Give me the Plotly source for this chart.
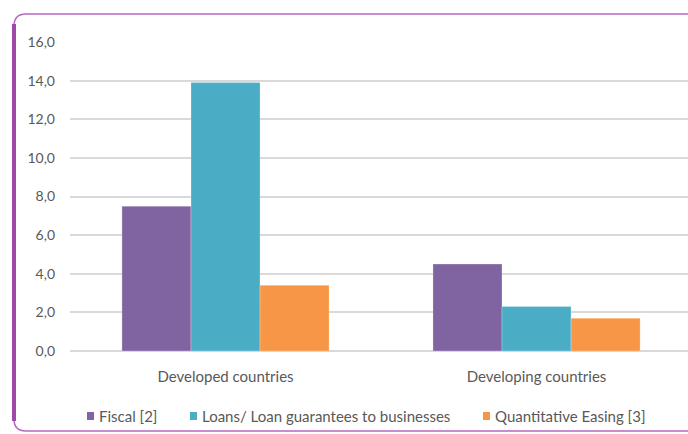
import plotly.graph_objects as go

categories = ["Developed countries", "Developing countries"]
series_names = ["Fiscal [2]", "Loans/ Loan guarantees to businesses", "Quantitative Easing [3]"]
fiscal = [7.5, 4.5]
loans = [13.9, 2.3]
qe = [3.4, 1.7]
colors = ["#8064A2", "#4BACC6", "#F79646"]
tick_vals = [0, 2, 4, 6, 8, 10, 12, 14, 16]

W, H = 688, 434
L, R, T, B = 70, 0, 42, 83
pw, ph = W - L - R, H - T - B

fig = go.Figure()
for name, vals, c in zip(series_names, [fiscal, loans, qe], colors):
    fig.add_trace(go.Bar(x=categories, y=vals, name=name, showlegend=False,
                         marker=dict(color=c, line=dict(color="rgba(255,255,255,0.5)", width=0.5))))

def px(x):
    return (x - L) / pw

def py(y):
    return (H - B - y) / ph

# frame: left thick, top/bottom thin, rounded corners
r = 12
left_x = 14
top_y = 14
bot_y = 431
right_x = 700
path = (f"M {px(right_x)},{py(top_y)} L {px(left_x + r)},{py(top_y)} "
        f"Q {px(left_x)},{py(top_y)} {px(left_x)},{py(top_y + r)} "
        f"L {px(left_x)},{py(bot_y - r)} "
        f"Q {px(left_x)},{py(bot_y)} {px(left_x + r)},{py(bot_y)} "
        f"L {px(right_x)},{py(bot_y)}")
fig.add_shape(type="path", xref="paper", yref="paper", path=path,
              line=dict(color="#B868C0", width=1.5), layer="above")
fig.add_shape(type="line", xref="paper", yref="paper",
              x0=px(left_x), x1=px(left_x), y0=py(top_y + r - 2), y1=py(bot_y - r + 2),
              line=dict(color="#A048A8", width=4), layer="above")

# manual legend
legend_sq_x = [87, 190, 483]
legend_y = 416
for name, c, sx in zip(series_names, colors, legend_sq_x):
    fig.add_shape(type="rect", xref="paper", yref="paper",
                  x0=px(sx), x1=px(sx + 7), y0=py(legend_y - 4), y1=py(legend_y + 4),
                  fillcolor=c, line=dict(width=0))
    fig.add_annotation(xref="paper", yref="paper", x=px(sx + 10), y=py(legend_y),
                       xanchor="left", yanchor="middle", text=name, showarrow=False,
                       font=dict(size=15, color="#595959"))

fig.update_layout(
    width=W, height=H,
    margin=dict(l=L, r=R, t=T, b=B),
    paper_bgcolor="white", plot_bgcolor="white",
    separators=",.",
    barmode="group", bargap=0.334, bargroupgap=0,
    font=dict(family="Lato, Open Sans, sans-serif", size=13, color="#595959"),
    showlegend=False,
    xaxis=dict(range=[-0.5, 1.487], showgrid=False, showline=False, ticks="",
               tickfont=dict(size=15, color="#595959"), ticklabelstandoff=15),
    yaxis=dict(range=[0, 16], tickvals=tick_vals, tickformat=".1f",
               showgrid=True, gridcolor="#D9D9D9", gridwidth=1.5,
               zeroline=True, zerolinecolor="#D9D9D9", zerolinewidth=1.5,
               showline=False, ticks="", ticklabelstandoff=14,
               tickfont=dict(size=14, color="#595959")),
)

fig.write_html("out.html", config={"displayModeBar": False},
               post_script="document.body.style.margin='0';document.body.style.overflow='hidden';")
